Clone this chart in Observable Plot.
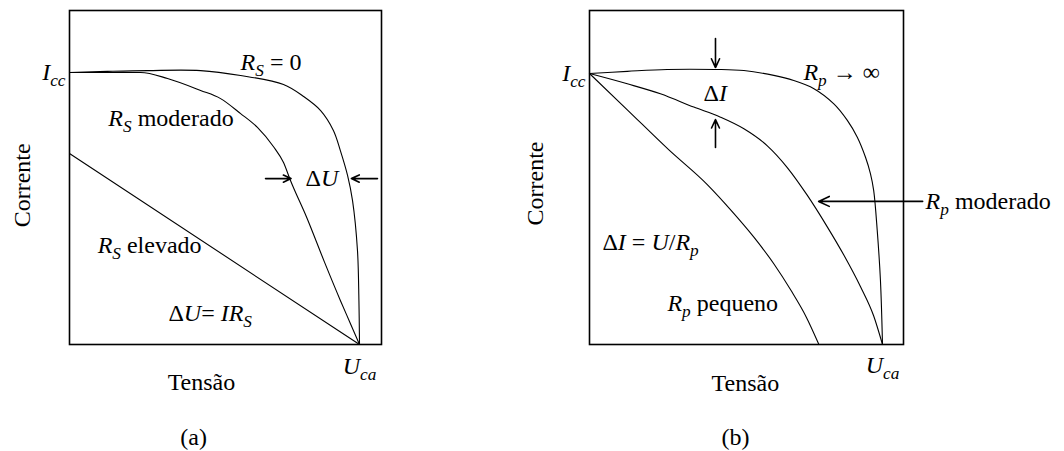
<!DOCTYPE html>
<html>
<head>
<meta charset="utf-8">
<script src="https://cdn.jsdelivr.net/npm/d3@7"></script>
<script src="https://cdn.jsdelivr.net/npm/@observablehq/plot@0.6"></script>
<style>
  html, body { margin: 0; padding: 0; background: white; }
  #figura { display: flex; width: 1064px; height: 451px; }
  #figura svg text, #figura svg tspan { font-family: "Liberation Serif", "Times New Roman", Times, "DejaVu Serif", serif !important; }
</style>
</head>
<body>
<div id="figura"></div>
<script>
// Curvas I–U normalizadas: tensão em unidades de U_ca, corrente em unidades de I_cc.

// (a) efeito da resistência série R_S
const rsZero = [[0, 1], [0.131, 1.004], [0.269, 1.007], [0.452, 1.007], [0.590, 0.989], [0.738, 0.956],
  [0.807, 0.912], [0.866, 0.860], [0.910, 0.787], [0.934, 0.713], [0.959, 0.621], [0.976, 0.529],
  [0.993, 0.346], [0.998, 0.162], [1, 0]];
const rsModerado = [[0, 1], [0.245, 1.0], [0.338, 0.978], [0.452, 0.934], [0.521, 0.904], [0.590, 0.849],
  [0.648, 0.798], [0.703, 0.728], [0.738, 0.669], [0.762, 0.603], [0.818, 0.467], [0.880, 0.301],
  [0.934, 0.162], [0.967, 0.081], [1, 0]];
const rsElevado = [[0, 0.702], [1, 0]];

// (b) efeito da resistência paralela R_p
const rpInfinito = [[0, 1], [0.129, 1.008], [0.265, 1.015], [0.430, 1.015], [0.527, 1.011], [0.629, 0.993],
  [0.697, 0.974], [0.766, 0.944], [0.834, 0.888], [0.880, 0.827], [0.914, 0.765], [0.942, 0.691],
  [0.959, 0.630], [0.970, 0.568], [0.982, 0.421], [0.993, 0.236], [1, 0]];
const rpModerado = [[0, 1], [0.129, 0.962], [0.242, 0.925], [0.356, 0.876], [0.447, 0.839], [0.527, 0.796],
  [0.606, 0.734], [0.675, 0.653], [0.743, 0.551], [0.811, 0.435], [0.868, 0.330], [0.925, 0.213],
  [0.970, 0.105], [1, 0]];
const rpPequeno = [[0, 1], [0.129, 0.866], [0.271, 0.718], [0.402, 0.590], [0.484, 0.494], [0.561, 0.396],
  [0.629, 0.298], [0.688, 0.199], [0.740, 0.101], [0.783, 0]];

// Rótulos dos eixos
const rotuloCorrente = "Corrente";
const rotuloTensao = "Tensão";
const rotuloIcc = "<i>I</i><sub>cc</sub>";
const rotuloUca = "<i>U</i><sub>ca</sub>";

const FONT = "'Liberation Serif', 'Times New Roman', Times, 'DejaVu Serif', serif";
const SIZE = 24;

// Texto fixo numa posição (em unidades de dados)
function label(s, x, y, opts = {}) {
  return Plot.text([s], {x: () => x, y: () => y, text: d => d, fontSize: SIZE, fontFamily: FONT, fill: "black", ...opts});
}

function curve(data, type = "catmull-rom") {
  return Plot.line(data, {x: d => d[0], y: d => d[1], curve: type, stroke: "black", strokeWidth: 1.1});
}

function arrow(x1, y1, x2, y2) {
  return Plot.arrow([0], {x1: () => x1, y1: () => y1, x2: () => x2, y2: () => y2,
    stroke: "black", strokeWidth: 1.6, headLength: 11, headAngle: 50});
}

// Converte <i>..</i> e <sub>..</sub> em tspans (itálico e índice)
function richText(svg) {
  d3.select(svg).selectAll("text").each(function () {
    const s = this.textContent;
    if (!s.includes("<")) return;
    const el = d3.select(this);
    el.text(null);
    const re = /<(i|sub)>(.*?)<\/\1>|([^<]+)/g;
    let m, shifted = false;
    while ((m = re.exec(s))) {
      const t = el.append("tspan");
      if (m[1] === "sub") {
        t.text(m[2]).attr("font-style", "italic").attr("font-size", "72%").attr("dy", shifted ? null : "6px");
        shifted = true;
      } else {
        t.text(m[3] ?? m[2]);
        if (m[1] === "i") t.attr("font-style", "italic");
        if (shifted) { t.attr("dy", "-6px"); shifted = false; }
      }
    }
  });
  return svg;
}

const style = {fontFamily: FONT, fontSize: SIZE + "px", background: "white", color: "black", overflow: "visible"};

const panelA = Plot.plot({
  width: 532, height: 451,
  marginLeft: 69, marginRight: 151, marginTop: 10, marginBottom: 107,
  x: {domain: [0, 312 / 290], axis: null},
  y: {domain: [0, 334 / 272], axis: null},
  style,
  marks: [
    Plot.frame({stroke: "black", strokeWidth: 1.6}),
    curve(rsZero),
    curve(rsModerado, "monotone-x"),
    curve(rsElevado),
    arrow(0.676, 0.610, 0.764, 0.610),
    arrow(1.062, 0.610, 0.972, 0.610),
    label("<i>R</i><sub>S</sub> = 0", 0.590, 1.037, {textAnchor: "start"}),
    label("<i>R</i><sub>S</sub> moderado", 0.134, 0.831, {textAnchor: "start"}),
    label("Δ<i>U</i>", 0.814, 0.610, {textAnchor: "start"}),
    label("<i>R</i><sub>S</sub> elevado", 0.097, 0.364, {textAnchor: "start"}),
    label("Δ<i>U</i>= <i>IR</i><sub>S</sub>", 0.341, 0.114, {textAnchor: "start"}),
    label(rotuloIcc, 0, 1, {textAnchor: "end", dx: -4}),
    label(rotuloUca, 1, 0, {dy: 22}),
    label(rotuloTensao, 0.455, 0, {dy: 38}),
    label("(a)", 0.428, 0, {dy: 93}),
    label(rotuloCorrente, 0, 0.585, {rotate: -90, dx: -47})
  ]
});

const panelB = Plot.plot({
  width: 532, height: 451,
  marginLeft: 57, marginRight: 161, marginTop: 10, marginBottom: 107,
  x: {domain: [0, 314 / 293], axis: null},
  y: {domain: [0, 334 / 271], axis: null},
  style,
  marks: [
    Plot.frame({stroke: "black", strokeWidth: 1.6}),
    curve(rpInfinito),
    curve(rpModerado, "monotone-x"),
    curve(rpPequeno, "monotone-x"),
    arrow(0.430, 1.129, 0.430, 1.022),
    arrow(0.430, 0.727, 0.430, 0.830),
    arrow(1.137, 0.528, 0.782, 0.528),
    label("<i>R</i><sub>p</sub> → ∞", 0.730, 1.004, {textAnchor: "start"}),
    label("Δ<i>I</i>", 0.389, 0.926, {textAnchor: "start"}),
    label("<i>R</i><sub>p</sub> moderado", 1.147, 0.528, {textAnchor: "start"}),
    label("Δ<i>I</i> = <i>U</i>/<i>R</i><sub>p</sub>", 0.044, 0.376, {textAnchor: "start"}),
    label("<i>R</i><sub>p</sub> pequeno", 0.266, 0.151, {textAnchor: "start"}),
    label(rotuloIcc, 0, 1, {textAnchor: "end", dx: -4}),
    label(rotuloUca, 1, 0, {dy: 21}),
    label(rotuloTensao, 0.532, 0, {dy: 39}),
    label("(b)", 0.498, 0, {dy: 93}),
    label(rotuloCorrente, 0, 0.594, {rotate: -90, dx: -54})
  ]
});

const fig = document.getElementById("figura");
fig.append(richText(panelA), richText(panelB));
</script>
</body>
</html>
